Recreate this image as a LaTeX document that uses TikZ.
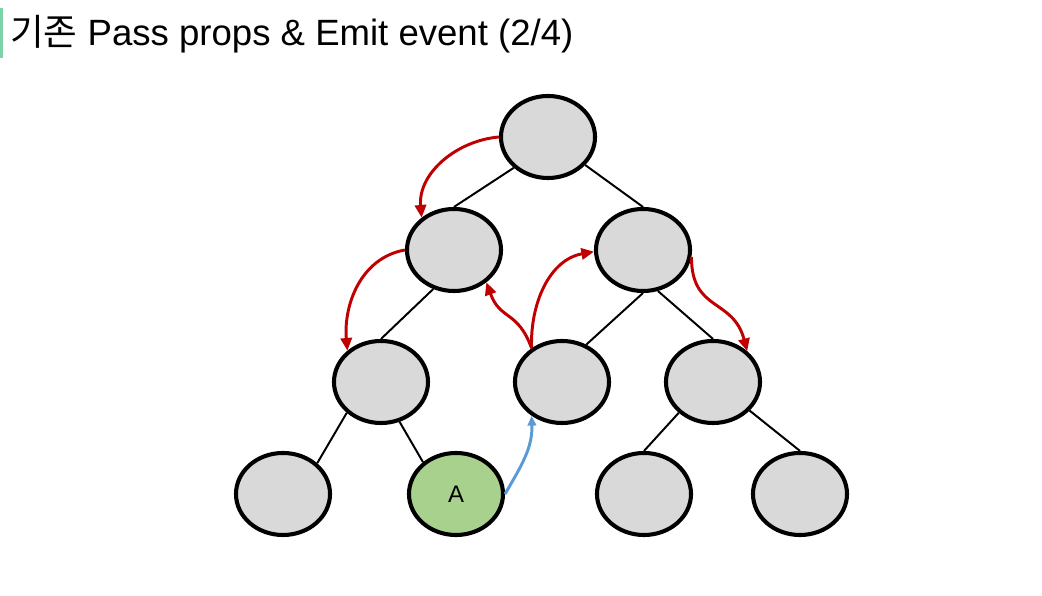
\documentclass[tikz,border=0pt]{standalone}
\usepackage{fontspec}
\setmainfont{Liberation Sans}
\newfontfamily\kofont{Noto Sans CJK KR}
\usetikzlibrary{arrows.meta,shapes}
\definecolor{nodegray}{HTML}{D9D9D9}
\definecolor{nodegreen}{HTML}{A9D18E}
\definecolor{passred}{HTML}{C00000}
\definecolor{emitblue}{HTML}{5B9BD5}
\definecolor{barteal}{HTML}{7DD3A8}
\newcommand{\ringw}{2.9pt}
\newcommand{\edgew}{1.4pt}

\begin{document}
\begin{tikzpicture}[x=0.025cm,y=0.025cm]
        \useasboundingbox (0,0) rectangle (1042,596);
        %\draw[help lines,step=50] (0,0) grid (1042,596);
        \tikzset{vert/.style = {ellipse, draw, line width = \ringw, fill = nodegray,
                                minimum width = 2.35cm, minimum height = 2.05cm, inner sep = 0pt},
                 tree/.style = {line width = \edgew},
                 pass/.style = {passred, line width = 2.1pt, -{Triangle[length=9pt,width=8pt]}},
                 emit/.style = {emitblue, line width = 2.1pt, -{Triangle[length=7pt,width=6pt]}}}
        \fill[barteal] (0,538) rectangle (2.5,588);
        \node[anchor=base west, inner sep=0pt, font=\fontsize{26}{30}\selectfont] (title) at (10,550)
            {{\kofont 기존} Pass props \& Emit event (2/4)};
        % tree
        \node[vert] (r) at (548,459) {};
        \node[vert] (b1) at (454,346) {};
        \node[vert] (b2) at (643,346) {};
        \node[vert] (c1) at (381,214) {};
        \node[vert] (c2) at (562,214) {};
        \node[vert] (c3) at (713,214) {};
        \node[vert] (d1) at (283,102) {};
        \node[vert, fill = nodegreen, font = \fontsize{17}{20}\selectfont] (a) at (456,102) {A};
        \node[vert] (d3) at (644,102) {};
        \node[vert] (d4) at (800,102) {};
        \draw[tree] (r.-138) -- (b1.north) (r.-37) -- (b2.north)
                    (b1.-118) -- (c1.north) (b2.-90) -- (c2.57) (b2.-70) -- (c3.north)
                    (c1.-138) -- (d1.42) (c1.-65) -- (a.136)
                    (c3.-138) -- (d3.north) (c3.-38) -- (d4.north);
        % props down, event up
        \draw[pass] (r.west) to[out=185,in=95] (b1.135);
        \draw[pass] (b1.west) to[out=190,in=95] (c1.137);
        \draw[pass] (c2.132) to[out=110,in=-70,looseness=1.3] (b1.-45);
        \draw[pass] (c2.132) to[out=92,in=190] (b2.182);
        \draw[pass] (b2.-8) to[out=-90,in=105,looseness=1.3] (c3.42);
        \draw[emit] (a.east) to[out=60,in=-88] (c2.-132);
\end{tikzpicture}
\end{document}
